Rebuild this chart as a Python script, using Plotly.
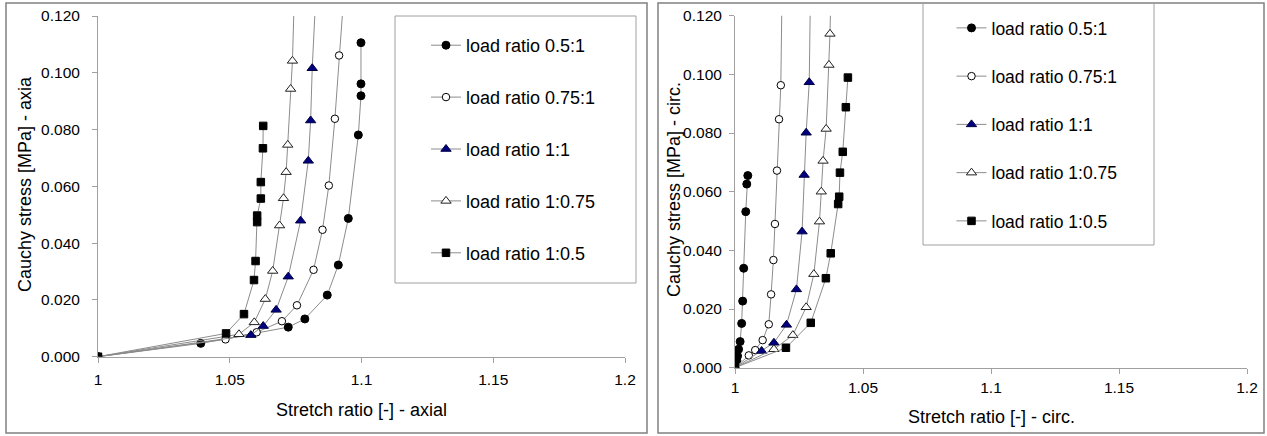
import plotly.graph_objects as go

W, H = 1267, 436

names = ["load ratio 0.5:1", "load ratio 0.75:1", "load ratio 1:1", "load ratio 1:0.75", "load ratio 1:0.5"]

# ---- axial (left) data ----
ax_x_05_1 = [1.0, 1.039, 1.0722, 1.0785, 1.087, 1.0912, 1.095, 1.0988, 1.0998, 1.0998, 1.0998]
ax_y_05_1 = [0.0, 0.0047, 0.0104, 0.0133, 0.0217, 0.0323, 0.0487, 0.0781, 0.0919, 0.0961, 0.1106]
ax_x_075_1 = [1.0, 1.0484, 1.0602, 1.0698, 1.0755, 1.0818, 1.0852, 1.0876, 1.0899, 1.0915, 1.0935]
ax_y_075_1 = [0.0, 0.0061, 0.0086, 0.0125, 0.0181, 0.0306, 0.0447, 0.0603, 0.0838, 0.1061, 0.1300]
ax_x_1_1 = [1.0, 1.058, 1.0627, 1.0676, 1.0722, 1.0769, 1.0798, 1.0807, 1.0813, 1.0828]
ax_y_1_1 = [0.0, 0.0076, 0.0108, 0.0165, 0.0282, 0.0479, 0.0690, 0.0832, 0.1016, 0.1300]
ax_x_1_075 = [1.0, 1.0535, 1.0593, 1.0635, 1.0663, 1.0689, 1.0704, 1.0714, 1.0720, 1.0731, 1.0738, 1.0746]
ax_y_1_075 = [0.0, 0.0079, 0.0121, 0.0203, 0.0302, 0.0462, 0.0558, 0.0650, 0.0746, 0.0943, 0.1042, 0.1300]
ax_x_1_05 = [1.0, 1.0486, 1.0554, 1.0592, 1.0598, 1.0604, 1.0604, 1.0618, 1.0618, 1.0626, 1.0627]
ax_y_1_05 = [0.0, 0.0082, 0.0150, 0.0270, 0.0337, 0.0474, 0.0497, 0.0557, 0.0615, 0.0734, 0.0813]

# ---- circumferential (right) data ----
ci_x_05_1 = [1.0, 1.0007, 1.0010, 1.0014, 1.0020, 1.0026, 1.0030, 1.0034, 1.0042, 1.0046, 1.0050]
ci_y_05_1 = [0.0, 0.0024, 0.0040, 0.0063, 0.0089, 0.0151, 0.0227, 0.0339, 0.0532, 0.0626, 0.0655]
ci_x_075_1 = [1.0, 1.0054, 1.0079, 1.0108, 1.0132, 1.0141, 1.0150, 1.0156, 1.0164, 1.0172, 1.0179, 1.0184]
ci_y_075_1 = [0.0, 0.0042, 0.0060, 0.0094, 0.0148, 0.0250, 0.0367, 0.0490, 0.0672, 0.0847, 0.0963, 0.1300]
ci_x_1_1 = [1.0, 1.0104, 1.0152, 1.0201, 1.0240, 1.0262, 1.0270, 1.0278, 1.0290, 1.0295]
ci_y_1_1 = [0.0, 0.0057, 0.0085, 0.0146, 0.0267, 0.0464, 0.0657, 0.0801, 0.0973, 0.1300]
ci_x_1_075 = [1.0, 1.0152, 1.0226, 1.0278, 1.0308, 1.0330, 1.0337, 1.0344, 1.0356, 1.0367, 1.0371, 1.0375]
ci_y_1_075 = [0.0, 0.0063, 0.0111, 0.0206, 0.0319, 0.0498, 0.0600, 0.0705, 0.0814, 0.1032, 0.1138, 0.1300]
ci_x_1_05 = [1.0, 1.0199, 1.0296, 1.0355, 1.0374, 1.0403, 1.0407, 1.0410, 1.0421, 1.0433, 1.0441]
ci_y_1_05 = [0.0, 0.0068, 0.0153, 0.0305, 0.0390, 0.0558, 0.0583, 0.0665, 0.0736, 0.0888, 0.0989]

x_ticks = [1.0, 1.05, 1.1, 1.15, 1.2]
x_tick_labels = ["1", "1.05", "1.1", "1.15", "1.2"]
y_ticks = [0.0, 0.02, 0.04, 0.06, 0.08, 0.10, 0.12]
y_tick_labels = ["0.000", "0.020", "0.040", "0.060", "0.080", "0.100", "0.120"]

axial = [(ax_x_05_1, ax_y_05_1), (ax_x_075_1, ax_y_075_1), (ax_x_1_1, ax_y_1_1),
         (ax_x_1_075, ax_y_1_075), (ax_x_1_05, ax_y_1_05)]
circ = [(ci_x_05_1, ci_y_05_1), (ci_x_075_1, ci_y_075_1), (ci_x_1_1, ci_y_1_1),
        (ci_x_1_075, ci_y_1_075), (ci_x_1_05, ci_y_1_05)]

markers = [
    dict(symbol="circle", size=8, color="black", line=dict(color="black", width=1)),
    dict(symbol="circle", size=7.5, color="white", line=dict(color="black", width=1)),
    dict(symbol="triangle-up", size=9, color="#000080", line=dict(color="#000040", width=1)),
    dict(symbol="triangle-up", size=9, color="white", line=dict(color="#202020", width=1)),
    dict(symbol="square", size=7.5, color="black", line=dict(color="black", width=1)),
]
LINE = dict(color="#8c8c8c", width=1)
FONT = "Liberation Sans, Arial, sans-serif"

fig = go.Figure()
for i, (xs, ys) in enumerate(axial):
    fig.add_trace(go.Scatter(x=xs, y=ys, mode="lines+markers", name=names[i],
                             line=LINE, marker=markers[i], xaxis="x", yaxis="y",
                             legend="legend", legendgroup="a%d" % i))
for i, (xs, ys) in enumerate(circ):
    fig.add_trace(go.Scatter(x=xs, y=ys, mode="lines+markers", name=names[i],
                             line=LINE, marker=markers[i], xaxis="x2", yaxis="y2",
                             legend="legend2", legendgroup="c%d" % i))

def px(x):
    return x / W

def py(y):
    return 1 - y / H

axis_common = dict(showgrid=False, zeroline=False, showline=True, linecolor="#a0a0a0",
                   linewidth=1, ticks="outside", ticklen=5, tickcolor="#a0a0a0",
                   automargin=False,
                   tickfont=dict(family=FONT, size=15.5, color="black"))

fig.update_layout(
    width=W, height=H, autosize=False,
    margin=dict(l=0, r=0, t=0, b=0, pad=0, autoexpand=False),
    paper_bgcolor="white", plot_bgcolor="white",
    font=dict(family=FONT, color="black"),
    xaxis=dict(domain=[px(98), px(625)], range=[1, 1.2], tickvals=x_ticks, ticktext=x_tick_labels,
               anchor="y", ticklabelstandoff=4, **axis_common),
    yaxis=dict(domain=[py(356.7), py(16)], range=[0, 0.12], tickvals=y_ticks, ticktext=y_tick_labels,
               anchor="x", ticklabelstandoff=9, **axis_common),
    xaxis2=dict(domain=[px(735), px(1247)], range=[1, 1.2], tickvals=x_ticks, ticktext=x_tick_labels,
                anchor="y2", ticklabelstandoff=1, **axis_common),
    yaxis2=dict(domain=[py(367.7), py(15.7)], range=[0, 0.12], tickvals=y_ticks, ticktext=y_tick_labels,
                anchor="x2", ticklabelstandoff=4, **axis_common),
    legend=dict(x=px(426), y=py(27), xanchor="left", yanchor="top", bgcolor="rgba(0,0,0,0)",
                borderwidth=0, tracegroupgap=25.5, font=dict(family=FONT, size=18, color="black")),
    legend2=dict(x=px(951.5), y=py(10), xanchor="left", yanchor="top", bgcolor="rgba(0,0,0,0)",
                 borderwidth=0, tracegroupgap=22.5, font=dict(family=FONT, size=17.5, color="black")),
    showlegend=True,
)

shapes = [
    dict(type="rect", xref="paper", yref="paper", x0=px(6), x1=px(647), y0=py(433), y1=py(3),
         line=dict(color="#808080", width=1.5)),
    dict(type="rect", xref="paper", yref="paper", x0=px(658), x1=px(1264), y0=py(433), y1=py(3),
         line=dict(color="#808080", width=1.5)),
    dict(type="rect", xref="paper", yref="paper", x0=px(395), x1=px(636), y0=py(283), y1=py(16),
         line=dict(color="#a0a0a0", width=1)),
    dict(type="rect", xref="paper", yref="paper", x0=px(923), x1=px(1154), y0=py(245), y1=py(3),
         line=dict(color="#a0a0a0", width=1)),
]
fig.update_layout(shapes=shapes)

ann_font = dict(family=FONT, size=18, color="black")
fig.update_layout(annotations=[
    dict(text="Stretch ratio [-] - axial", x=px(361.5), y=py(410), xref="paper", yref="paper",
         showarrow=False, xanchor="center", yanchor="middle", font=ann_font),
    dict(text="Stretch ratio [-] - circ.", x=px(991), y=py(417), xref="paper", yref="paper",
         showarrow=False, xanchor="center", yanchor="middle", font=ann_font),
    dict(text="Cauchy stress [MPa] - axia", x=px(25), y=py(184), xref="paper", yref="paper",
         showarrow=False, xanchor="center", yanchor="middle", textangle=-90, font=ann_font),
    dict(text="Cauchy stress [MPa] - circ.", x=px(674), y=py(190), xref="paper", yref="paper",
         showarrow=False, xanchor="center", yanchor="middle", textangle=-90, font=ann_font),
])

fig.write_html("out.html", config={"displayModeBar": False},
               post_script="document.body.style.margin='0';document.body.style.overflow='hidden';")
